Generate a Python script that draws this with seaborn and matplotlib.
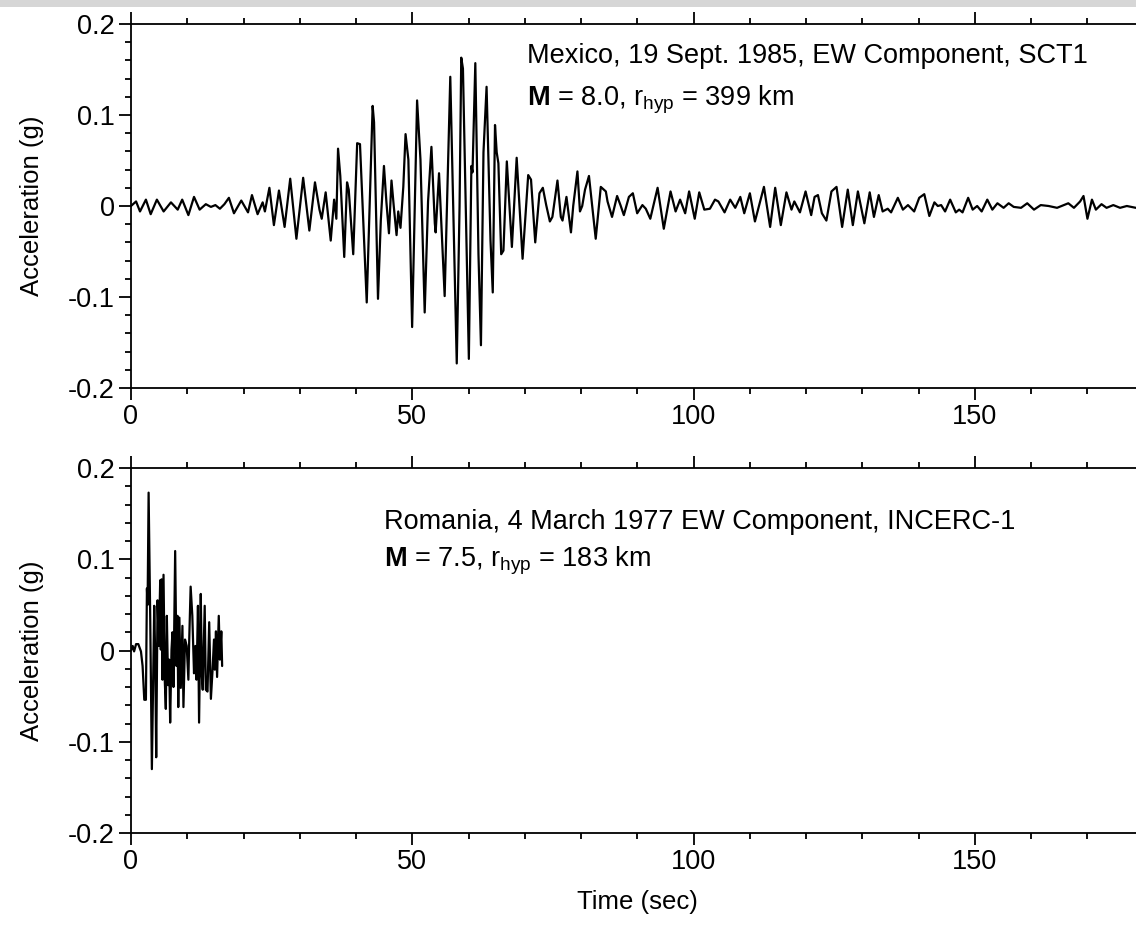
import numpy as np
import pandas as pd
import matplotlib
matplotlib.use("Agg")
import matplotlib.pyplot as plt
from matplotlib.ticker import MultipleLocator, FixedLocator, FixedFormatter
from matplotlib.patches import Rectangle
import seaborn as sns

# --- Mexico 1985, SCT1 EW accelerogram (peaks/troughs, time in s, acc in g)
mexico_time = [
    0.0, 0.9, 1.6, 2.65, 3.5, 4.6, 5.8, 7.1, 7.7, 8.3, 9.1, 10.2, 11.2, 12.2,
    13.3, 14.2, 15.0, 15.8, 16.6, 17.4, 18.3, 19.6, 20.8, 21.5, 22.5, 23.4,
    23.8, 24.6, 25.4, 26.3, 27.3, 28.3, 29.4, 30.6, 31.7, 32.7, 33.5, 33.9,
    34.6, 35.5, 36.1, 36.5, 36.8, 37.2, 37.9, 38.4, 38.7, 39.5, 40.2, 40.7,
    41.9, 42.95, 43.2, 43.9, 44.4, 44.96, 45.4, 45.85, 46.3, 46.7, 47.2, 47.5,
    47.9, 48.4, 48.8, 49.3, 49.97, 50.85, 51.45, 52.2, 52.8, 53.4, 54.0, 54.15,
    54.75, 55.75, 56.75, 57.9, 58.4, 58.7, 59.0, 60.05, 60.5, 60.7, 61.2,
    61.76, 62.2, 62.65, 63.2, 63.9, 64.3, 64.7, 65.0, 65.3, 65.8, 66.2, 66.8,
    67.7, 68.55, 69.6, 70.6, 71.1, 71.85, 72.6, 73.2, 73.8, 74.45, 74.9, 75.8,
    76.4, 76.7, 77.4, 78.2, 78.6, 79.35, 79.8, 80.2, 80.7, 81.4, 82.6, 83.5,
    84.4, 84.7, 85.5, 86.4, 87.0, 87.6, 88.5, 89.2, 89.97, 90.9, 91.5, 92.3,
    93.6, 94.7, 95.9, 96.8, 97.6, 98.5, 99.2, 100.2, 101.0, 101.9, 102.9,
    103.8, 104.4, 105.5, 106.5, 107.4, 108.3, 109.0, 110.0, 110.9, 112.5,
    113.6, 114.5, 115.5, 116.5, 117.4, 117.9, 118.9, 119.9, 120.9, 121.5,
    122.1, 122.8, 123.6, 124.5, 125.4, 126.4, 127.4, 128.3, 129.2, 130.35,
    131.3, 132.05, 132.9, 133.6, 134.5, 135.1, 136.3, 137.2, 138.1, 139.2,
    140.1, 141.0, 141.9, 142.8, 143.4, 144.0, 144.7, 145.6, 146.6, 147.2,
    147.8, 148.8, 149.6, 150.4, 151.2, 152.2, 153.1, 154.0, 155.1, 156.0,
    156.9, 158.2, 159.3, 160.5, 161.7, 163.1, 164.6, 165.8, 166.6, 167.6,
    168.7, 169.3, 170.0, 170.8, 171.5, 172.5, 173.4, 174.6, 175.8, 177.0,
    178.6,
]
mexico_acc = [
    0.000, 0.005, -0.006, 0.007, -0.009, 0.007, -0.006, 0.004, 0.000, -0.004,
    0.007, -0.010, 0.010, -0.004, 0.002, -0.001, 0.001, -0.003, 0.002, 0.009,
    -0.008, 0.006, -0.007, 0.012, -0.009, 0.004, -0.006, 0.020, -0.021, 0.017,
    -0.023, 0.030, -0.036, 0.031, -0.027, 0.026, -0.004, -0.014, 0.015,
    -0.038, 0.007, -0.014, 0.063, 0.033, -0.056, 0.026, 0.018, -0.053, 0.069,
    0.068, -0.106, 0.110, 0.092, -0.102, -0.016, 0.044, 0.004, -0.030, 0.028,
    0.000, -0.032, -0.006, -0.024, 0.021, 0.079, 0.051, -0.133, 0.116, 0.051,
    -0.117, 0.005, 0.065, -0.019, -0.029, 0.036, -0.099, 0.142, -0.173, 0.000,
    0.163, 0.151, -0.168, 0.044, 0.037, 0.157, -0.053, -0.153, 0.059, 0.131,
    -0.038, -0.095, 0.089, 0.059, 0.047, -0.053, -0.049, 0.049, -0.045, 0.053,
    -0.058, 0.034, 0.029, -0.040, 0.014, 0.020, 0.001, -0.017, -0.012, 0.028,
    -0.012, -0.016, 0.010, -0.029, 0.000, 0.038, -0.006, 0.000, 0.018, 0.033,
    -0.036, 0.021, 0.016, 0.005, -0.012, 0.011, 0.001, -0.010, 0.010, 0.014,
    -0.008, 0.001, -0.003, -0.014, 0.020, -0.025, 0.016, -0.006, 0.007, -0.008,
    0.016, -0.014, 0.015, -0.004, -0.003, 0.007, 0.005, -0.007, 0.007, -0.002,
    0.010, -0.008, 0.014, -0.017, 0.021, -0.023, 0.020, -0.021, 0.015, -0.004,
    0.005, -0.007, 0.016, -0.010, 0.010, 0.012, -0.008, -0.016, 0.016, 0.021,
    -0.023, 0.018, -0.021, 0.016, -0.019, 0.015, -0.012, 0.012, -0.006,
    -0.003, -0.007, 0.009, -0.004, 0.001, -0.006, 0.009, 0.013, -0.011, 0.004,
    0.000, 0.001, -0.006, 0.007, -0.007, -0.004, -0.007, 0.009, -0.004, 0.000,
    -0.006, 0.007, -0.004, 0.003, -0.002, 0.003, -0.001, -0.002, 0.003,
    -0.004, 0.001, 0.000, -0.002, 0.001, 0.003, -0.002, 0.005, 0.011, -0.014,
    0.007, -0.004, 0.002, -0.002, 0.001, -0.002, 0.000, -0.002,
]

# --- Romania 1977, INCERC-1 EW accelerogram
romania_time = [
    0.0, 0.3, 0.55, 0.9, 1.3, 1.77, 2.06, 2.36, 2.65, 2.83, 2.95, 3.13, 3.42,
    3.71, 4.13, 4.3, 4.48, 4.72, 4.95, 5.19, 5.3, 5.43, 5.6, 5.78, 6.0, 6.19,
    6.37, 6.6, 6.78, 6.96, 7.2, 7.37, 7.55, 7.85, 8.08, 8.26, 8.4, 8.6, 8.85,
    9.14, 9.32, 9.6, 9.9, 10.2, 10.35, 10.6, 10.9, 11.2, 11.45, 11.65, 11.9,
    12.1, 12.4, 12.6, 12.75, 13.1, 13.3, 13.6, 13.9, 14.2, 14.5, 14.75, 14.9,
    15.1, 15.3, 15.6, 15.8, 16.05, 16.2,
]
romania_acc = [
    0.000, 0.005, -0.001, 0.007, 0.007, -0.001, -0.017, -0.054, -0.054, 0.068,
    0.050, 0.173, 0.034, -0.130, 0.049, -0.006, -0.117, 0.055, 0.005, 0.077,
    0.001, 0.078, -0.032, 0.083, -0.032, -0.064, 0.038, -0.038, -0.010, -0.079,
    0.001, 0.020, -0.040, 0.109, -0.017, 0.038, -0.062, 0.036, -0.041, 0.027,
    -0.062, 0.012, 0.005, -0.032, 0.012, 0.070, 0.038, -0.025, 0.005, -0.032,
    0.049, -0.079, 0.062, -0.028, -0.043, 0.049, -0.043, -0.045, 0.031, -0.053,
    -0.021, 0.012, -0.021, 0.021, -0.029, 0.038, -0.010, 0.021, -0.017,
]

panel_titles = [
    "Mexico, 19 Sept. 1985, EW Component, SCT1",
    "Romania, 4 March 1977 EW Component, INCERC-1",
]
panel_subtitles = [
    r"$\mathbf{M}$ = 8.0, r$_{\mathrm{hyp}}$ = 399 km",
    r"$\mathbf{M}$ = 7.5, r$_{\mathrm{hyp}}$ = 183 km",
]
x_ticks = [0, 50, 100, 150]
y_ticks = [-0.2, -0.1, 0.0, 0.1, 0.2]
y_tick_labels = ["-0.2", "-0.1", "0", "0.1", "0.2"]

sns.set_theme(style="ticks")
plt.rcParams["font.family"] = ["Liberation Sans", "DejaVu Sans"]
plt.rcParams["mathtext.fontset"] = "custom"
plt.rcParams["mathtext.rm"] = "Liberation Sans"
plt.rcParams["mathtext.it"] = "Liberation Sans:italic"
plt.rcParams["mathtext.bf"] = "Liberation Sans:bold"
plt.rcParams["axes.unicode_minus"] = False

fig = plt.figure(figsize=(11.36, 9.30), dpi=100)
fig.patch.set_facecolor("white")

# thin grey strip along the top edge
fig.patches.append(Rectangle((0, 1 - 7 / 930), 1, 7 / 930, transform=fig.transFigure,
                             facecolor="#d6d6d6", edgecolor="none", zorder=0))

left = 131 / 1136
width = 1012.7 / 1136
ax_top = fig.add_axes([left, 1 - 388 / 930, width, 364 / 930])
ax_bot = fig.add_axes([left, 1 - 833 / 930, width, 365 / 930])

frames = [
    pd.DataFrame({"Time (sec)": mexico_time, "Acceleration (g)": mexico_acc}),
    pd.DataFrame({"Time (sec)": romania_time, "Acceleration (g)": romania_acc}),
]

text_pos = [((527 - 131) / 1012.7, 0.893, 0.775),
            ((384 - 131) / 1012.7, 0.833, 0.729)]

for i, (ax, df) in enumerate(zip([ax_top, ax_bot], frames)):
    sns.lineplot(data=df, x="Time (sec)", y="Acceleration (g)", ax=ax,
                 sort=False, estimator=None, color="black", linewidth=1.6)
    ax.set_xlim(0, 180)
    ax.set_ylim(-0.2, 0.2)
    ax.xaxis.set_major_locator(FixedLocator(x_ticks))
    ax.xaxis.set_minor_locator(MultipleLocator(10))
    ax.yaxis.set_major_locator(FixedLocator(y_ticks))
    ax.yaxis.set_major_formatter(FixedFormatter(y_tick_labels))
    ax.yaxis.set_minor_locator(MultipleLocator(0.02))
    ax.tick_params(axis="x", which="both", top=True, bottom=True,
                   direction="out", width=1.3, colors="black")
    ax.tick_params(axis="y", which="both", left=True, right=False,
                   direction="out", width=1.3, colors="black")
    ax.tick_params(which="major", length=8.6, labelsize=19.5, pad=3)
    ax.tick_params(which="minor", length=4.3)
    for s in ["left", "top", "bottom", "right"]:
        ax.spines[s].set_linewidth(1.3)
        ax.spines[s].set_color("black")
    ax.set_ylabel("Acceleration (g)", fontsize=18.5, color="black")
    ax.yaxis.set_label_coords(-0.086, 0.5)
    if i == 0:
        ax.set_xlabel("")
    else:
        ax.set_xlabel("Time (sec)", fontsize=18.5, color="black", labelpad=11)
    tx, y1, y2 = text_pos[i]
    ax.text(tx, y1, panel_titles[i], transform=ax.transAxes, fontsize=19.5,
            ha="left", va="baseline", color="black")
    ax.text(tx, y2, panel_subtitles[i], transform=ax.transAxes, fontsize=19.5,
            ha="left", va="baseline", color="black")

fig.savefig("out.png", dpi=100)
